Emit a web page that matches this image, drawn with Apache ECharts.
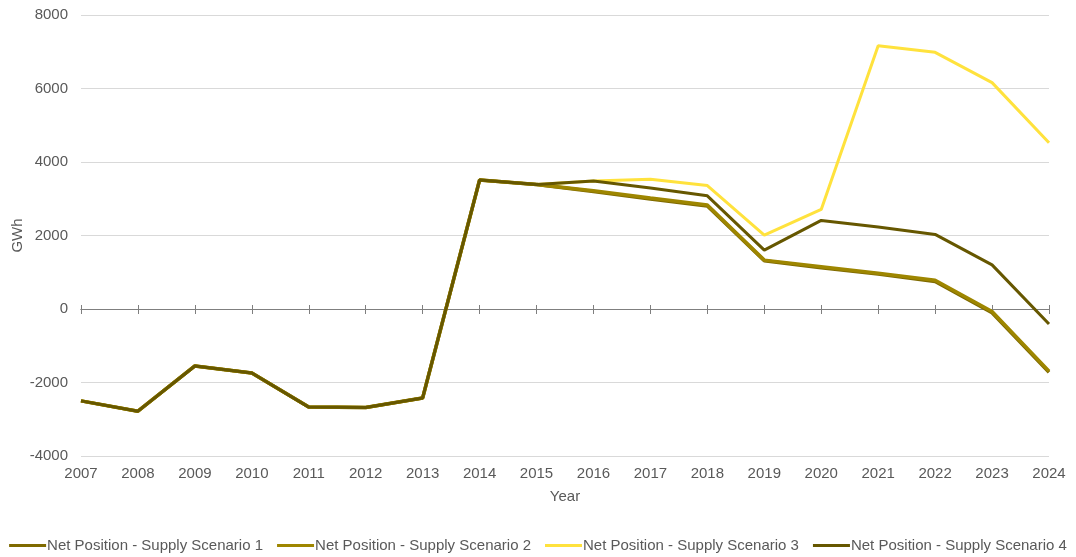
<!DOCTYPE html>
<html>
<head>
<meta charset="utf-8">
<script src="https://cdn.jsdelivr.net/npm/echarts@6/dist/echarts.min.js"></script>
<style>
  html, body { margin: 0; padding: 0; background: #fff; }
  #chart { width: 1076px; height: 557px; }
</style>
</head>
<body>
<div id="chart"></div>
<script>
// years on the x axis
var years = ['2007', '2008', '2009', '2010', '2011', '2012', '2013', '2014', '2015',
    '2016', '2017', '2018', '2019', '2020', '2021', '2022', '2023', '2024'];

// GWh
var scenario1 = [-2500, -2780, -1550, -1740, -2670, -2680, -2420, 3510, 3390,
    3200, 2990, 2800, 1310, 1120, 950, 750, -100, -1720];
var scenario2 = [-2500, -2780, -1550, -1740, -2670, -2680, -2420, 3510, 3390,
    3220, 3020, 2830, 1330, 1150, 970, 780, -70, -1690];
var scenario3 = [-2500, -2780, -1550, -1740, -2670, -2680, -2420, 3510, 3390,
    3480, 3530, 3360, 2010, 2710, 7165, 6985, 6160, 4525];
var scenario4 = [-2500, -2780, -1550, -1740, -2670, -2680, -2420, 3510, 3390,
    3480, 3290, 3080, 1600, 2410, 2230, 2030, 1200, -410];

var names = ['Net Position - Supply Scenario 1', 'Net Position - Supply Scenario 2',
    'Net Position - Supply Scenario 3', 'Net Position - Supply Scenario 4'];
var colors = ['#7f6a00', '#9e8600', '#ffe23d', '#665700'];

var txt = '#595959';
var fontFam = '"Liberation Sans", Arial, sans-serif';
var gridBox = {left: 81, right: 27, top: 15, bottom: 101, containLabel: false, outerBoundsMode: 'none'};

function line(name, data, color, width) {
    return {
        name: name,
        type: 'line',
        data: data,
        symbol: 'none',
        xAxisIndex: 0,
        yAxisIndex: 0,
        lineStyle: {width: width, color: color},
        itemStyle: {color: color}
    };
}

// zero line with ticks; grid 1 ticks point down, grid 2 ticks point up
function zeroAxis(gridIndex, inside, len) {
    return {
        type: 'category',
        data: years,
        boundaryGap: false,
        gridIndex: gridIndex,
        position: 'bottom',
        axisLine: {show: true, onZero: true, lineStyle: {color: '#7f7f7f', width: 1}},
        axisTick: {show: true, inside: inside, interval: 0, length: len, lineStyle: {color: '#7f7f7f'}},
        axisLabel: {show: false}
    };
}

function hiddenY(gridIndex) {
    return {type: 'value', gridIndex: gridIndex, min: -4000, max: 8000, interval: 2000, show: false};
}

var myChart = echarts.init(document.getElementById('chart'));
myChart.setOption({
    animation: false,
    textStyle: {fontFamily: fontFam},
    color: colors,
    grid: [gridBox, gridBox, gridBox],
    legend: {
        top: 533,
        left: 'center',
        icon: 'rect',
        itemWidth: 37,
        itemHeight: 3,
        itemGap: 14,
        textStyle: {color: txt, fontSize: 15, fontFamily: fontFam, padding: [0, 0, 0, -4]},
        data: names
    },
    xAxis: [
        {
            type: 'category',
            data: years,
            boundaryGap: false,
            gridIndex: 0,
            position: 'bottom',
            axisLine: {show: false, onZero: false},
            axisTick: {show: false},
            axisLabel: {color: txt, fontSize: 15, margin: 10},
            splitLine: {show: false},
            name: 'Year',
            nameLocation: 'middle',
            nameGap: 33,
            nameTextStyle: {color: txt, fontSize: 15}
        },
        zeroAxis(1, false, 5),
        zeroAxis(2, true, 4)
    ],
    yAxis: [
        {
            type: 'value',
            gridIndex: 0,
            min: -4000,
            max: 8000,
            interval: 2000,
            axisLine: {show: false},
            axisTick: {show: false},
            axisLabel: {color: txt, fontSize: 15, margin: 13, formatter: function (v) { return String(v); }},
            splitLine: {lineStyle: {color: '#d9d9d9', width: 1}},
            name: 'GWh',
            nameLocation: 'middle',
            nameRotate: 90,
            nameGap: 56,
            nameMoveOverlap: false,
            nameTextStyle: {color: txt, fontSize: 15}
        },
        hiddenY(1),
        hiddenY(2)
    ],
    series: [
        line(names[2], scenario3, colors[2], 3),
        line(names[0], scenario1, colors[0], 3.5),
        line(names[1], scenario2, colors[1], 3.5),
        line(names[3], scenario4, colors[3], 3)
    ]
});
</script>
</body>
</html>
